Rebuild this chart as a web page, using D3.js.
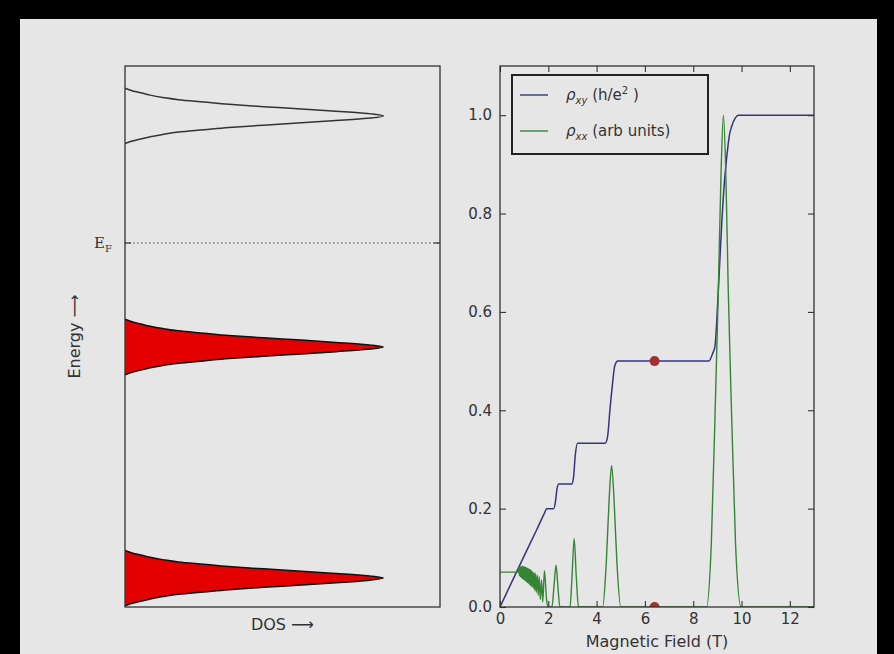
<!DOCTYPE html>
<html>
<head>
<meta charset="utf-8">
<script src="https://cdn.jsdelivr.net/npm/d3@7"></script>
<style>
  body { margin: 0; background: #000; }
  text { font-family: "DejaVu Sans", sans-serif; fill: #333; }
</style>
</head>
<body>
<svg id="chart" width="894" height="654"></svg>
<script>
// Landau levels (energy, arb units), which are filled, and the Fermi energy
const levelEnergy = [0.5, 1.5, 2.5];
const levelFilled = [true, true, false];
const fermiEnergy = 1.95;

// shape of one DOS peak: distance from level -> DOS
const peakOffset = [0, 0.01, 0.02, 0.03, 0.04, 0.05, 0.06, 0.07, 0.08, 0.09, 0.10, 0.11, 0.12];
const peakDos = [0.82, 0.77, 0.67, 0.56, 0.44, 0.33, 0.25, 0.17, 0.12, 0.08, 0.05, 0.02, 0.0];

// Hall resistivity rho_xy in h/e^2 against field (T)
const rhoXy = [
  [0, 0], [0.5, 0.052], [1.0, 0.104], [1.5, 0.155], [1.85, 0.192], [1.93, 0.2],
  [2.22, 0.2], [2.29, 0.212], [2.36, 0.24], [2.43, 0.25],
  [2.97, 0.25], [3.04, 0.262], [3.12, 0.31], [3.21, 0.333], [4.35, 0.333],
  [4.45, 0.345], [4.55, 0.40], [4.65, 0.45], [4.75, 0.49], [4.88, 0.5],
  [8.65, 0.5], [8.8, 0.515], [8.9, 0.53], [9.04, 0.645], [9.18, 0.78],
  [9.3, 0.87], [9.39, 0.916], [9.5, 0.96], [9.59, 0.977], [9.75, 0.995],
  [9.87, 1.0], [13, 1.0]
];

// longitudinal resistivity rho_xx (arb units) against field (T)
const rhoXx = [
  [0, 0.071], [0.75, 0.071], [0.78, 0.079], [0.80, 0.064], [0.82, 0.081], [0.84, 0.062],
  [0.86, 0.082], [0.88, 0.060], [0.90, 0.083], [0.92, 0.058], [0.94, 0.083], [0.96, 0.057],
  [0.98, 0.082], [1.00, 0.055], [1.02, 0.082], [1.04, 0.054], [1.06, 0.081], [1.08, 0.052],
  [1.10, 0.080], [1.12, 0.050], [1.14, 0.079], [1.16, 0.049], [1.18, 0.078], [1.20, 0.047],
  [1.22, 0.077], [1.24, 0.045], [1.26, 0.076], [1.28, 0.043], [1.30, 0.074], [1.32, 0.041],
  [1.35, 0.072], [1.38, 0.038], [1.41, 0.070], [1.44, 0.034], [1.47, 0.068], [1.50, 0.030],
  [1.54, 0.065], [1.58, 0.024], [1.62, 0.062], [1.67, 0.015], [1.72, 0.055], [1.77, 0.01],
  [1.84, 0.074], [1.92, 0.02], [1.98, 0.0], [2.15, 0.0], [2.24, 0.045], [2.32, 0.085],
  [2.40, 0.04], [2.48, 0.0],
  [2.9, 0.0], [2.98, 0.06], [3.07, 0.139], [3.16, 0.06], [3.25, 0.0],
  [4.25, 0.0], [4.4, 0.09], [4.52, 0.22], [4.62, 0.288], [4.72, 0.22], [4.84, 0.09], [5.0, 0.0],
  [8.55, 0.0], [8.75, 0.13], [8.94, 0.46], [9.04, 0.645], [9.15, 0.88], [9.25, 1.0],
  [9.35, 0.88], [9.45, 0.645], [9.55, 0.46], [9.75, 0.13], [9.98, 0.0], [13, 0.0]
];

// the two marked points
const markers = [[6.4, 0.5], [6.4, 0.0]];

const xTicks = [0, 2, 4, 6, 8, 10, 12];
const yTicks = [0, 0.2, 0.4, 0.6, 0.8, 1.0];

const bg = '#e6e6e6';
const ink = '#333';
const svg = d3.select('#chart');

svg.append('rect').attr('width', 894).attr('height', 654).attr('fill', '#000');
svg.append('rect').attr('x', 20).attr('y', 19).attr('width', 857).attr('height', 640).attr('fill', bg);

const plotTop = 66, plotBottom = 607;

/* ---------- left panel : density of states ---------- */
const L = { x0: 125, x1: 440 };
const xDos = d3.scaleLinear().domain([0, 1]).range([L.x0, L.x1]);
const yE = d3.scaleLinear().domain([0.375, 2.716]).range([plotBottom, plotTop]);

const left = svg.append('g');
left.append('defs').append('clipPath').attr('id', 'clipL')
  .append('rect').attr('x', L.x0).attr('y', plotTop).attr('width', L.x1 - L.x0).attr('height', plotBottom - plotTop);

// mirror the peak profile about each level
function peakPoints(e) {
  let pts = [];
  for (let i = peakOffset.length - 1; i > 0; i--) pts.push([e - peakOffset[i], peakDos[i]]);
  for (let i = 0; i < peakOffset.length; i++) pts.push([e + peakOffset[i], peakDos[i]]);
  return pts;
}

const dosArea = d3.area()
  .y(d => yE(d[0])).x0(xDos(0)).x1(d => xDos(d[1]))
  .curve(d3.curveMonotoneY);
const dosLine = d3.line()
  .y(d => yE(d[0])).x(d => xDos(d[1]))
  .curve(d3.curveMonotoneY);

const peaks = left.append('g').attr('clip-path', 'url(#clipL)');
levelEnergy.forEach((e, i) => {
  let pts = peakPoints(e);
  if (levelFilled[i]) {
    peaks.append('path').datum(pts).attr('d', dosArea).attr('fill', '#e30000');
  }
  peaks.append('path').datum(pts).attr('d', dosLine)
    .attr('fill', 'none').attr('stroke', levelFilled[i] ? '#111' : '#333').attr('stroke-width', 1.5);
});

// Fermi level
left.append('line')
  .attr('x1', L.x0).attr('x2', L.x1)
  .attr('y1', yE(fermiEnergy)).attr('y2', yE(fermiEnergy))
  .attr('stroke', '#444').attr('stroke-width', 1.2).attr('stroke-dasharray', '1.5,2.5');

left.append('rect')
  .attr('x', L.x0).attr('y', plotTop).attr('width', L.x1 - L.x0).attr('height', plotBottom - plotTop)
  .attr('fill', 'none').attr('stroke', ink).attr('stroke-width', 1.3);

[[L.x0, 6], [L.x1, -6]].forEach(([x, len]) => {
  left.append('line').attr('x1', x).attr('x2', x + len)
    .attr('y1', yE(fermiEnergy)).attr('y2', yE(fermiEnergy))
    .attr('stroke', ink).attr('stroke-width', 1.2);
});

const ef = left.append('text')
  .attr('x', 112).attr('y', yE(fermiEnergy)).attr('dy', '0.35em')
  .attr('text-anchor', 'end')
  .style('font-family', '"DejaVu Serif", serif').style('font-size', '15px');
ef.append('tspan').text('E');
ef.append('tspan').attr('dy', 4).style('font-size', '10px').text('F');

left.append('text')
  .attr('transform', `translate(80,${(plotTop + plotBottom) / 2}) rotate(-90)`)
  .attr('text-anchor', 'middle').style('font-size', '16px')
  .text('Energy \u27F6');

left.append('text')
  .attr('x', (L.x0 + L.x1) / 2).attr('y', 630)
  .attr('text-anchor', 'middle').style('font-size', '16px')
  .text('DOS \u27F6');

/* ---------- right panel : resistivities ---------- */
const R = { x0: 500, x1: 814 };
const xB = d3.scaleLinear().domain([0, 13]).range([R.x0, R.x1]);
const yR = d3.scaleLinear().domain([0, 1.1]).range([plotBottom, plotTop]);

const right = svg.append('g');
right.append('defs').append('clipPath').attr('id', 'clipR')
  .append('rect').attr('x', R.x0).attr('y', plotTop).attr('width', R.x1 - R.x0).attr('height', plotBottom - plotTop);

const plot = right.append('g').attr('clip-path', 'url(#clipR)');
const curve = d3.line().x(d => xB(d[0])).y(d => yR(d[1])).curve(d3.curveMonotoneX);

plot.append('path').datum(rhoXy).attr('d', curve)
  .attr('fill', 'none').attr('stroke', '#35357f').attr('stroke-width', 1.5);
plot.append('path').datum(rhoXx).attr('d', curve)
  .attr('fill', 'none').attr('stroke', '#358535').attr('stroke-width', 1.4);
plot.selectAll('circle').data(markers).enter().append('circle')
  .attr('cx', d => xB(d[0])).attr('cy', d => yR(d[1])).attr('r', 5)
  .attr('fill', '#a33030');

function styleAxis(g) {
  g.select('.domain').remove();
  g.selectAll('.tick line').attr('stroke', ink).attr('stroke-width', 1.1);
  g.selectAll('.tick text').style('font-size', '15px').style('font-family', '"DejaVu Sans", sans-serif').attr('fill', ink);
}

right.append('g').attr('transform', `translate(0,${plotBottom})`)
  .call(d3.axisBottom(xB).tickValues(xTicks).tickSize(-6).tickPadding(6).tickFormat(d3.format('d')))
  .call(styleAxis);
right.append('g').attr('transform', `translate(0,${plotTop})`)
  .call(d3.axisTop(xB).tickValues(xTicks).tickSize(-6).tickFormat(''))
  .call(styleAxis);
right.append('g').attr('transform', `translate(${R.x0},0)`)
  .call(d3.axisLeft(yR).tickValues(yTicks).tickSize(-6).tickPadding(8).tickFormat(d3.format('.1f')))
  .call(styleAxis);
right.append('g').attr('transform', `translate(${R.x1},0)`)
  .call(d3.axisRight(yR).tickValues(yTicks).tickSize(-6).tickFormat(''))
  .call(styleAxis);

right.append('rect')
  .attr('x', R.x0).attr('y', plotTop).attr('width', R.x1 - R.x0).attr('height', plotBottom - plotTop)
  .attr('fill', 'none').attr('stroke', ink).attr('stroke-width', 1.3);

right.append('text')
  .attr('x', (R.x0 + R.x1) / 2).attr('y', 647)
  .attr('text-anchor', 'middle').style('font-size', '16px')
  .text('Magnetic Field (T)');

// legend
const legend = right.append('g');
legend.append('rect').attr('x', 512).attr('y', 75).attr('width', 196).attr('height', 79)
  .attr('fill', bg).attr('stroke', '#222').attr('stroke-width', 2);
const entries = [
  { color: '#35357f', sub: 'xy', rest: ' (h/e', sup: '2', end: ' )' },
  { color: '#358535', sub: 'xx', rest: ' (arb units)', sup: '', end: '' }
];
entries.forEach((d, i) => {
  let y = 95 + i * 36;
  legend.append('line').attr('x1', 520).attr('x2', 548).attr('y1', y).attr('y2', y)
    .attr('stroke', d.color).attr('stroke-width', 1.4);
  let t = legend.append('text').attr('x', 566).attr('y', y + 5).style('font-size', '15px');
  t.append('tspan').style('font-style', 'italic').text('\u03C1');
  t.append('tspan').attr('dy', 4).style('font-size', '10px').style('font-style', 'italic').text(d.sub);
  t.append('tspan').attr('dy', -4).text(d.rest);
  if (d.sup) {
    t.append('tspan').attr('dy', -6).style('font-size', '10px').text(d.sup);
    t.append('tspan').attr('dy', 6).text(d.end);
  }
});
</script>
</body>
</html>
